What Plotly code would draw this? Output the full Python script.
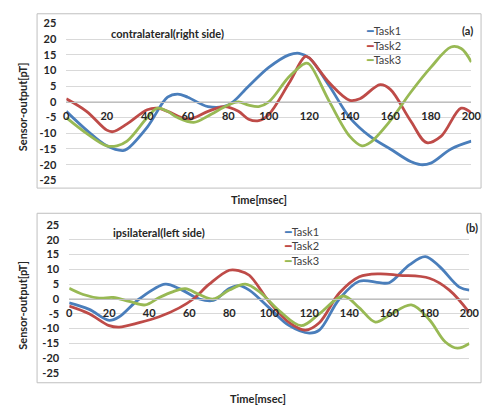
import plotly.graph_objects as go

# ---------------- data ----------------
# (a) contralateral (right side)
a_task1_t = [0, 10, 20, 28, 30, 40, 50, 55, 60, 70, 80, 90, 100, 110, 115, 120, 130, 140, 150, 160, 170, 175, 180, 190, 200]
a_task1_v = [-3, -9, -14, -15.5, -15, -8, 1.5, 2.5, 1.5, -1.5, -1, 5, 11, 15, 15.5, 14, 5, -5, -11, -15, -19, -20, -19.5, -15, -12.5]

a_task2_t = [0, 10, 20, 23, 30, 40, 45, 50, 60, 70, 78, 85, 90, 95, 100, 110, 118, 120, 130, 140, 145, 155, 160, 170, 178, 185, 195, 200]
a_task2_v = [1, -3, -9, -9.5, -7, -2.5, -2, -3, -5.5, -3, -1.5, -3, -5.5, -6, -4, 6, 14.5, 14, 6, 0.5, 1, 5.5, 4, -6, -13, -11, -2, -3.5]

a_task3_t = [0, 10, 20, 25, 30, 40, 45, 50, 55, 63, 70, 80, 85, 90, 95, 100, 110, 118, 120, 130, 140, 146, 150, 160, 170, 180, 190, 195, 200]
a_task3_v = [-5, -10, -14, -14, -12.5, -5, -2, -3, -5, -6.5, -4.5, -1, 0, -1, -1.5, 0, 8, 12.3, 12, 0, -11, -14, -13, -6, 3, 11, 17.5, 17, 12.7]

# (b) ipsilateral (left side)
b_task1_t = [0, 10, 20, 25, 35, 48, 55, 65, 72, 80, 85, 90, 100, 110, 120, 125, 135, 145, 155, 160, 170, 178, 185, 195, 200]
b_task1_v = [-1.3, -3.5, -7.2, -6, 0, 5, 3.5, 0, -0.5, 3.5, 4.5, 3, -3, -9, -11.5, -10.5, 0, 6, 5.5, 5.5, 11.5, 14.3, 11, 4, 3]

b_task2_t = [0, 10, 20, 25, 35, 45, 55, 62, 70, 80, 85, 90, 100, 110, 118, 125, 135, 145, 155, 165, 180, 190, 200]
b_task2_v = [-2.4, -5, -9, -9.5, -8, -6, -3, 0, 5, 9.7, 9.5, 8, -1, -8, -10.5, -8, 2, 7.5, 8.5, 8, 7, 3, -4.6]

b_task3_t = [0, 7, 15, 22, 30, 38, 45, 52, 58, 65, 72, 80, 88, 95, 105, 116, 125, 137, 145, 153, 160, 171, 180, 188, 194, 200]
b_task3_v = [3.6, 1.5, 0.3, 0.5, -0.8, -2, 0.5, 2.5, 3.5, 1.5, 0, 3, 5, 2.5, -4, -9, -5, 1, -3, -7.8, -5.5, -2, -7, -14.5, -16.6, -15]

series_names = ["Task1", "Task2", "Task3"]
x_ticks = [0, 20, 40, 60, 80, 100, 120, 140, 160, 180, 200]
y_ticks = [-25, -20, -15, -10, -5, 0, 5, 10, 15, 20, 25]
y_tick_text = ["-25", "-20", "-15", "-10", "-5", "0", "5", "10", "15", "20", "25"]

# ---------------- layout helpers ----------------
W, H = 493, 412
colors = ["#4a7ebb", "#be4b48", "#98b954"]
FONT = "Lato, 'Open Sans', sans-serif"


def px(x):
    return x / W


def py(y):
    return 1 - y / H


fig = go.Figure()

top_sets = [(a_task1_t, a_task1_v), (a_task2_t, a_task2_v), (a_task3_t, a_task3_v)]
bot_sets = [(b_task1_t, b_task1_v), (b_task2_t, b_task2_v), (b_task3_t, b_task3_v)]

for i, (t, v) in enumerate(top_sets):
    fig.add_trace(go.Scatter(x=t, y=v, mode="lines", name=series_names[i],
                             line=dict(color=colors[i], width=2.8, shape="spline", smoothing=1.0),
                             xaxis="x", yaxis="y", showlegend=False))
for i, (t, v) in enumerate(bot_sets):
    fig.add_trace(go.Scatter(x=t, y=v, mode="lines", name=series_names[i],
                             line=dict(color=colors[i], width=2.8, shape="spline", smoothing=1.0),
                             xaxis="x2", yaxis="y2", showlegend=False))

top_dom_x = [px(65), px(481)]
top_dom_y = [py(179), py(17)]
bot_dom_x = [px(68), px(479)]
bot_dom_y = [py(378), py(225)]

tickfont = dict(family=FONT, size=11, color="#262626", weight="bold")

common_x = dict(range=[0, 200], tickvals=x_ticks, ticktext=[str(v) for v in x_ticks],
                showgrid=False, zeroline=False, showline=True, linecolor="#bfbfbf", linewidth=1,
                ticks="", tickfont=tickfont, anchor="free", ticklabelstandoff=4)
common_y = dict(range=[-25, 25], tickvals=y_ticks, ticktext=y_tick_text, showgrid=True,
                gridcolor="#d9d9d9", gridwidth=1, zeroline=False, showline=False,
                ticks="", tickfont=tickfont, ticklabelstandoff=9)

fig.update_layout(
    width=W, height=H,
    margin=dict(l=0, r=0, t=0, b=0),
    paper_bgcolor="white", plot_bgcolor="white",
    xaxis=dict(common_x, domain=top_dom_x, position=(top_dom_y[0] + top_dom_y[1]) / 2),
    yaxis=dict(common_y, domain=top_dom_y, anchor="x"),
    xaxis2=dict(common_x, domain=bot_dom_x, position=(bot_dom_y[0] + bot_dom_y[1]) / 2),
    yaxis2=dict(common_y, domain=bot_dom_y, anchor="x2"),
    showlegend=False,
)

# chart-area borders
for (x0, y0, x1, y1) in [(35, 7, 491, 187), (35, 213, 491, 388)]:
    fig.add_shape(type="rect", xref="paper", yref="paper",
                  x0=px(x0), x1=px(x1), y0=py(y1), y1=py(y0),
                  line=dict(color="#bfbfbf", width=1), fillcolor="rgba(0,0,0,0)", layer="below")

# legend entries (colored dash + series name), one block per panel
legend_font = dict(family=FONT, size=11, color="#404040")
for (lx, ly0) in [(371, 25), (287, 232)]:
    for i, name in enumerate(series_names):
        fig.add_annotation(xref="paper", yref="paper", showarrow=False, font=legend_font,
                           xanchor="left", yanchor="middle", x=px(lx), y=py(ly0 + 15 * i),
                           text=(f"<span style='color:{colors[i]};font-family:DejaVu Sans'>\u2501</span>"
                                 f"{name}"))

bold = dict(family=FONT, size=11, color="#262626", weight="bold")
annots = [
    dict(text="contralateral(right side)", x=px(169), y=py(27)),
    dict(text="ipsilateral(left side)", x=px(160), y=py(233)),
    dict(text="(a)", x=px(477), y=py(24)),
    dict(text="(b)", x=px(482), y=py(228)),
    dict(text="Time[msec]", x=px(263), y=py(199)),
    dict(text="Time[msec]", x=px(262), y=py(404)),
]
for a in annots:
    fig.add_annotation(xref="paper", yref="paper", showarrow=False, font=bold,
                       xanchor="center", yanchor="middle", **a)
for yc in (103, 308):
    fig.add_annotation(xref="paper", yref="paper", showarrow=False, font=bold,
                       text="Sensor-output[pT]", textangle=-90, x=px(20), y=py(yc),
                       xanchor="center", yanchor="middle")

fig.write_html("out.html", config={"displayModeBar": False},
               post_script="document.body.style.margin='0px';document.body.style.overflow='hidden';")
